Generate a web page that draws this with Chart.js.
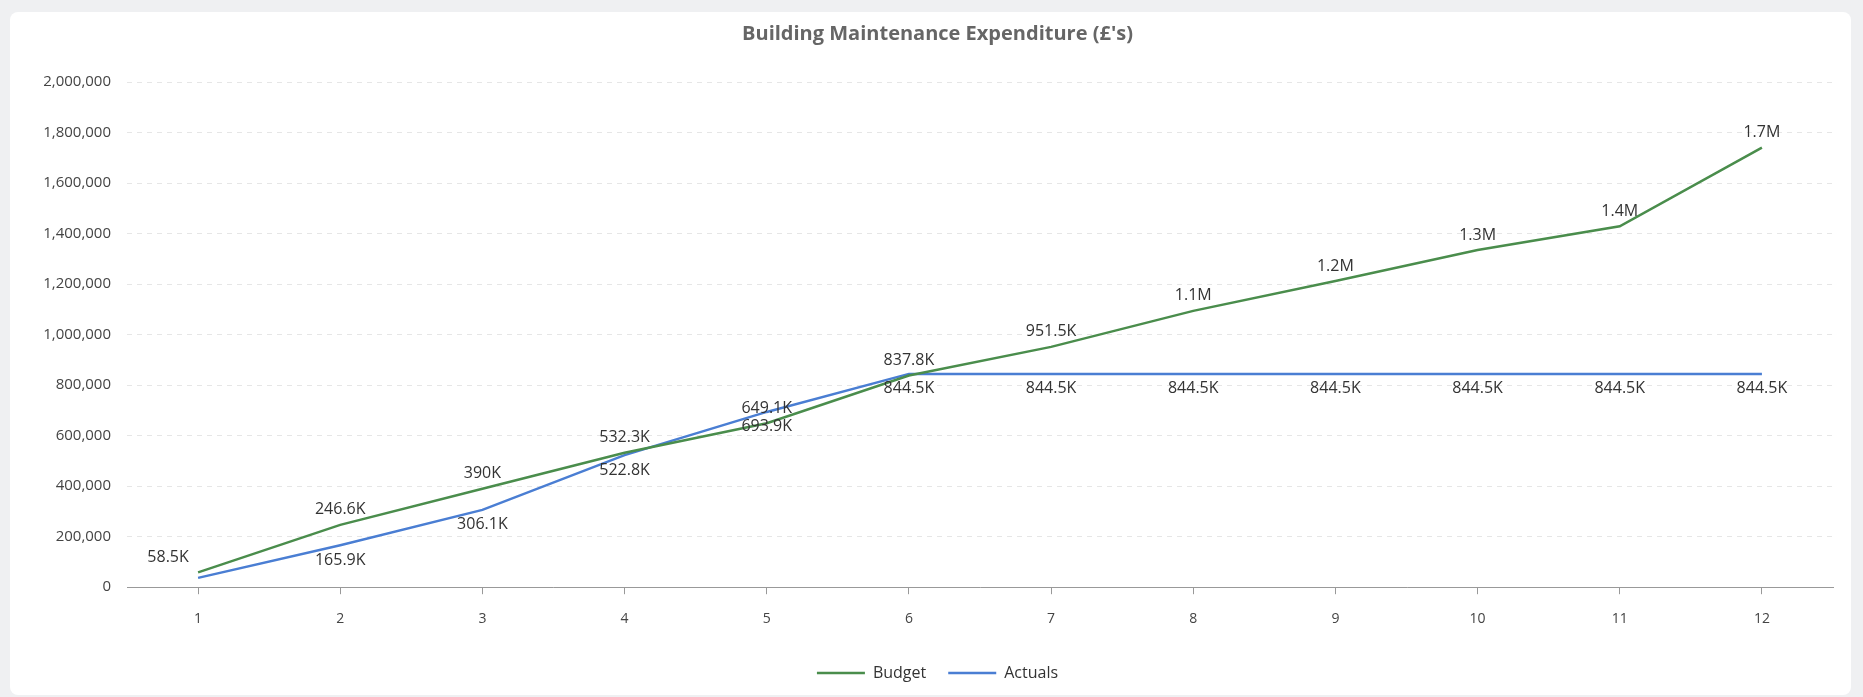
<!DOCTYPE html>
<html>
<head>
<meta charset="utf-8">
<script src="https://cdn.jsdelivr.net/npm/chart.js@4.4.1/dist/chart.umd.min.js"></script>
<style>
    html, body { margin: 0; padding: 0; background: #eff0f2; }
    .card {
        position: absolute; left: 10px; top: 12px; width: 1841px; height: 683px;
        background: #fff; border-radius: 8px;
    }
    canvas { display: block; }
</style>
</head>
<body>
<div class="card"><canvas id="lineChart" width="1841" height="683"></canvas></div>
<script>
var thang = ["1", "2", "3", "4", "5", "6", "7", "8", "9", "10", "11", "12"];
var budget = [58500, 246600, 390000, 532300, 649100, 837800, 951500, 1094000, 1212000, 1335000, 1429000, 1740000];
var actuals = [37000, 165900, 306100, 522800, 693900, 844500, 844500, 844500, 844500, 844500, 844500, 844500];
var yTicks = [0, 200000, 400000, 600000, 800000, 1000000, 1200000, 1400000, 1600000, 1800000, 2000000];
// nhan cua diem dau tien (actuals) khong hien trong hinh goc
var anNhanActuals = [0];

function rutGon(v) {
    if (v >= 1000000) return parseFloat((v / 1000000).toFixed(1)) + "M";
    return parseFloat((v / 1000).toFixed(1)) + "K";
}

// ve nhan gia tri: budget o tren, actuals o duoi
var nhanGiaTri = {
    id: "nhanGiaTri",
    afterDatasetsDraw: function (chart) {
        var ctx = chart.ctx;
        ctx.save();
        ctx.font = "16px 'Open Sans'";
        ctx.fillStyle = "#333";
        ctx.textAlign = "center";
        ctx.textBaseline = "middle";
        chart.data.datasets.forEach(function (ds, di) {
            var meta = chart.getDatasetMeta(di);
            meta.data.forEach(function (pt, i) {
                if (di == 1 && anNhanActuals.indexOf(i) >= 0) return;
                var dy = di == 0 ? -15 : 15;
                var dx = (di == 0 && i == 0) ? -30 : 0;
                ctx.fillText(rutGon(ds.data[i]), pt.x + dx, pt.y + dy);
            });
        });
        ctx.restore();
    }
};

var ctxL = document.getElementById("lineChart").getContext("2d");
new Chart(ctxL, {
    type: "line",
    data: {
        labels: thang,
        datasets: [{
            label: "Budget",
            data: budget,
            borderColor: "#4a8d4c",
            backgroundColor: "#4a8d4c",
            borderWidth: 2.5,
            pointRadius: 0,
            tension: 0
        }, {
            label: "Actuals",
            data: actuals,
            borderColor: "#4a7ed3",
            backgroundColor: "#4a7ed3",
            borderWidth: 2.5,
            pointRadius: 0,
            tension: 0
        }]
    },
    options: {
        responsive: false,
        animation: false,
        layout: { padding: { left: 32, right: 18, top: 0, bottom: 4 } },
        plugins: {
            title: {
                display: true,
                text: "Building Maintenance Expenditure (£'s)",
                color: "#666",
                font: { family: "'Open Sans'", size: 20, weight: "bold" },
                padding: { top: 10, bottom: 36 }
            },
            legend: {
                position: "bottom",
                labels: {
                    usePointStyle: true,
                    pointStyle: "line",
                    pointStyleWidth: 48,
                    boxHeight: 3,
                    color: "#333",
                    padding: 22,
                    font: { family: "'Open Sans'", size: 16 }
                }
            },
            tooltip: { enabled: false }
        },
        scales: {
            x: {
                offset: true,
                grid: { drawOnChartArea: false, drawTicks: true, tickLength: 7, color: "#999", offset: false },
                border: { display: true, color: "#999", width: 1 },
                ticks: { color: "#444", padding: 16, font: { family: "'Open Sans'", size: 14 } }
            },
            y: {
                min: 0,
                max: 2000000,
                afterBuildTicks: function (scale) {
                    scale.ticks = yTicks.map(function (v) { return { value: v }; });
                },
                afterFit: function (scale) { scale.width = 85; },
                grid: { color: "#e6e6e6", drawTicks: false },
                border: { display: false, dash: [5, 5] },
                ticks: {
                    color: "#444",
                    padding: 16,
                    font: { family: "'Open Sans'", size: 15 },
                    callback: function (v) { return v.toLocaleString("en-US"); }
                }
            }
        }
    },
    plugins: [nhanGiaTri]
});
</script>
</body>
</html>
